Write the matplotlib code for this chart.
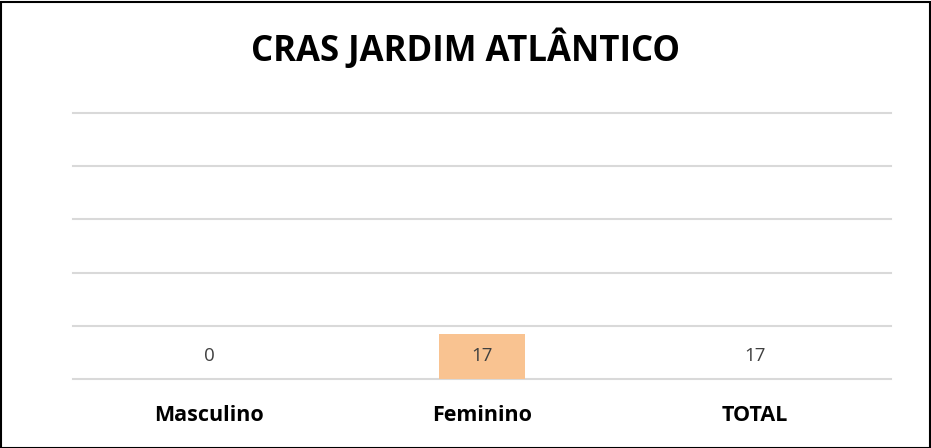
import matplotlib
matplotlib.use("Agg")
import matplotlib.pyplot as plt
from matplotlib.patches import Rectangle

categories = ["Masculino", "Feminino", "TOTAL"]
values = [0, 17, 17]
bar_colors = ["#F9C391", "#F9C391", "none"]
title = "CRAS JARDIM ATLÂNTICO"

plt.rcParams['font.family'] = ['Open Sans', 'DejaVu Sans']

fig = plt.figure(figsize=(9.31, 4.48), dpi=100)
ax = fig.add_axes([73/931, 1-379/448, (891-73)/931, (379-113)/448])

x = range(len(categories))
ax.bar(x, values, width=0.315, color=bar_colors, zorder=3)
label_y = max(values) / 2
for xi, v in zip(x, values):
    ax.text(xi, label_y, str(v), ha='center', va='center', fontsize=13.5,
            color='#404040', zorder=4)

ax.set_ylim(0, 100)
ax.set_xlim(-0.5, 2.5)
ax.set_yticks(range(0, 101, 20))
ax.yaxis.grid(True, color='#D9D9D9', linewidth=1.5, zorder=0)
for gl in ax.get_ygridlines():
    gl.set_clip_on(False)
ax.tick_params(axis='y', left=False, labelleft=False)
ax.tick_params(axis='x', bottom=False, pad=15.5)
ax.set_xticks(list(x))
ax.set_xticklabels(categories, fontsize=15.5, fontweight='bold', color='black')
for s in ax.spines.values():
    s.set_visible(False)

fig.text(0.5, 1-50/448, title, ha='center', va='center', fontsize=25,
         fontweight='bold', color='black')

fig.patches.append(Rectangle((0.5/931, 0.5/448), 1-2/931, 1-2.5/448,
                             transform=fig.transFigure, fill=False,
                             edgecolor='black', linewidth=1.5))

fig.savefig("out.png", dpi=100)
